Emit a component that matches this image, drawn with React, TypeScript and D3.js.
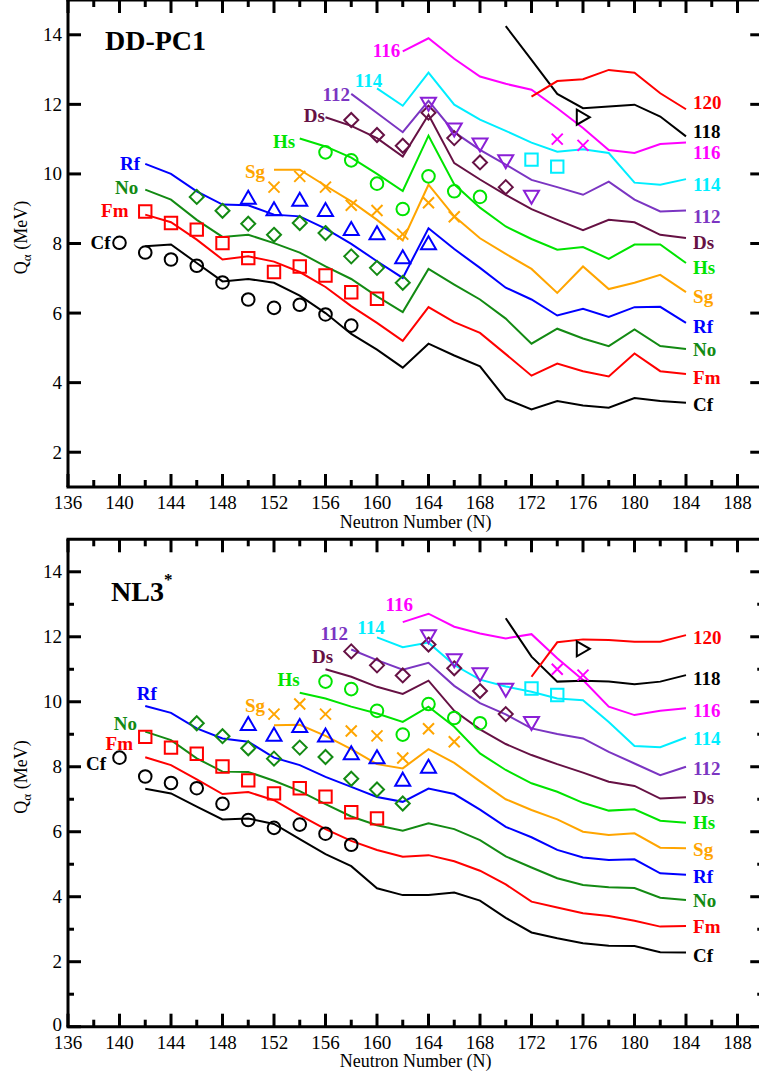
import React from 'react';
import * as d3 from 'd3';

const W = 759;
const H = 1076;

// ---------- Theory (DD-PC1) ----------
const ddCf = [7.92, 7.97, 7.44, 6.91, 6.98, 6.87, 6.5, 6.0, 5.4, 4.95, 4.43, 5.12, 4.78, 4.47, 3.53, 3.23, 3.47, 3.34, 3.28, 3.56, 3.47, 3.42];
const ddFm = [8.83, 8.61, 8.11, 7.54, 7.63, 7.48, 7.18, 6.75, 6.2, 5.72, 5.2, 6.17, 5.74, 5.43, 4.82, 4.2, 4.55, 4.33, 4.18, 4.84, 4.33, 4.25];
const ddNo = [9.55, 9.26, 8.68, 8.19, 8.25, 8.01, 7.74, 7.34, 6.98, 6.48, 6.03, 7.27, 6.82, 6.39, 5.84, 5.12, 5.55, 5.27, 5.05, 5.53, 5.05, 4.97];
const ddRf = [10.29, 10.0, 9.5, 9.12, 9.1, 8.83, 8.78, 8.43, 7.99, 7.49, 7.01, 8.44, 7.84, 7.3, 6.73, 6.39, 5.93, 6.12, 5.89, 6.17, 6.18, 5.72];
const ddSg = [10.12, 10.12, 9.66, 9.21, 8.68, 8.09, 9.69, 8.78, 8.15, 7.7, 7.27, 6.58, 7.34, 6.69, 6.87, 7.1, 6.6];
const ddHs = [11.02, 10.79, 10.47, 10.0, 9.51, 11.1, 9.7, 9.03, 8.49, 8.13, 7.82, 7.9, 7.56, 7.97, 7.97, 7.44];
const ddDs = [11.63, 11.38, 11.03, 10.5, 11.7, 10.31, 9.84, 9.4, 8.99, 8.68, 8.38, 8.68, 8.61, 8.25, 8.16];
const dd112 = [12.3, 11.75, 11.2, 12.1, 11.2, 10.69, 10.27, 9.83, 9.62, 9.4, 9.78, 9.26, 8.92, 8.95];
const dd114 = [12.46, 11.96, 12.91, 11.99, 11.56, 11.24, 10.9, 10.64, 10.71, 10.6, 9.75, 9.69, 9.85];
const dd116 = [13.52, 13.9, 13.31, 12.8, 12.59, 12.42, 11.89, 11.32, 10.69, 10.6, 10.86, 10.9];
const dd118 = [14.25, 13.28, 12.3, 11.89, 11.94, 11.99, 11.65, 11.08];
const dd120 = [12.22, 12.67, 12.72, 12.99, 12.91, 12.32, 11.86];

// ---------- Theory (NL3*) ----------
const nlCf = [7.32, 7.18, 6.77, 6.38, 6.41, 6.24, 5.77, 5.31, 4.94, 4.26, 4.05, 4.05, 4.13, 3.88, 3.35, 2.9, 2.72, 2.57, 2.49, 2.48, 2.29, 2.28];
const nlFm = [8.29, 8.05, 7.61, 7.16, 7.22, 6.97, 6.51, 6.08, 5.72, 5.44, 5.23, 5.28, 5.09, 4.8, 4.38, 3.85, 3.67, 3.49, 3.41, 3.26, 3.08, 3.1];
const nlNo = [9.08, 8.82, 8.26, 7.85, 7.84, 7.57, 7.25, 6.85, 6.47, 6.2, 6.03, 6.26, 6.08, 5.74, 5.24, 4.9, 4.57, 4.36, 4.29, 4.27, 3.97, 3.9];
const nlRf = [9.87, 9.66, 9.18, 8.87, 8.77, 8.28, 8.05, 7.69, 7.38, 7.07, 6.92, 7.33, 7.16, 6.68, 6.15, 5.83, 5.44, 5.21, 5.13, 5.15, 4.72, 4.68];
const nlSg = [9.28, 9.29, 8.95, 8.54, 8.08, 7.95, 8.54, 8.12, 7.55, 7.0, 6.67, 6.38, 6.0, 5.9, 5.95, 5.51, 5.49];
const nlHs = [10.28, 10.1, 9.85, 9.64, 9.38, 9.85, 9.23, 8.41, 7.9, 7.49, 7.23, 6.89, 6.65, 6.69, 6.34, 6.28];
const nlDs = [11.0, 10.77, 10.46, 10.24, 10.65, 9.72, 9.15, 8.7, 8.36, 8.08, 7.82, 7.54, 7.41, 7.02, 7.06];
const nl112 = [11.61, 11.28, 10.99, 11.2, 10.49, 9.96, 9.61, 9.18, 9.01, 8.87, 8.46, 8.1, 7.74, 8.0];
const nl114 = [11.98, 11.68, 11.82, 11.13, 10.68, 10.47, 10.31, 10.1, 10.05, 9.38, 8.64, 8.6, 8.9];
const nl116 = [12.45, 12.71, 12.31, 12.1, 11.95, 12.08, 11.34, 10.67, 9.85, 9.59, 9.72, 9.8];
const nl118 = [12.57, 11.39, 10.62, 10.65, 10.62, 10.54, 10.62, 10.82];
const nl120 = [10.77, 11.83, 11.92, 11.9, 11.85, 11.85, 12.05];

// first neutron number of each theory line
const startN = { Cf: 142, Fm: 142, No: 142, Rf: 142, Sg: 152, Hs: 154, Ds: 156, Z112: 158, Z114: 160, Z116: 162, Z118: 170, Z120: 172 };

// ---------- Experiment ----------
const expCfDD = [8.02, 7.74, 7.54, 7.36, 6.88, 6.39, 6.15, 6.24, 5.96, 5.64];
const expCfNL = [8.28, 7.7, 7.5, 7.34, 6.86, 6.36, 6.12, 6.22, 5.94, 5.6];
const expFm = [8.92, 8.59, 8.4, 8.01, 7.58, 7.18, 7.34, 7.08, 6.6, 6.41];
const expNo = [9.34, 8.94, 8.57, 8.25, 8.59, 8.3, 7.63, 7.3, 6.87];
const expRf = [9.32, 8.99, 9.26, 8.97, 8.42, 8.3, 7.61, 8.01];
const expSg = [9.62, 9.93, 9.62, 9.1, 8.95, 8.27, 9.17, 8.77];
const expHs = [10.62, 10.39, 9.72, 8.99, 9.93, 9.5, 9.34];
const expDs = [11.55, 11.12, 10.81, 11.76, 11.03, 10.33, 9.62];
const exp112 = [12.01, 11.27, 10.84, 10.36, 9.34];
const exp114 = [10.41, 10.21];
const exp116 = [11.0, 10.82];
const exp118 = [11.63];
const expStartN = { Cf: 140, Fm: 142, No: 146, Rf: 150, Sg: 152, Hs: 156, Ds: 158, Z112: 164, Z114: 172, Z116: 174, Z118: 176 };

const xTicksMajor = [136, 140, 144, 148, 152, 156, 160, 164, 168, 172, 176, 180, 184, 188];

// ---------- styles ----------
const C = {
  Cf: '#000000', Fm: '#ff0000', No: '#138a13', Rf: '#0000ff', Sg: '#ffa500', Hs: '#00e400',
  Ds: '#661144', Z112: '#7b35c2', Z114: '#00eeff', Z116: '#ff00ff', Z118: '#000000', Z120: '#ff0000',
};
const FONT = '"Liberation Serif", "Times New Roman", serif';

const names = ['Cf', 'Fm', 'No', 'Rf', 'Sg', 'Hs', 'Ds', 'Z112', 'Z114', 'Z116', 'Z118', 'Z120'];
const ddLines = [ddCf, ddFm, ddNo, ddRf, ddSg, ddHs, ddDs, dd112, dd114, dd116, dd118, dd120];
const nlLines = [nlCf, nlFm, nlNo, nlRf, nlSg, nlHs, nlDs, nl112, nl114, nl116, nl118, nl120];

const expShapes = { Cf: 'circle', Fm: 'square', No: 'diamond', Rf: 'triUp', Sg: 'cross', Hs: 'circle', Ds: 'diamond', Z112: 'triDown', Z114: 'square', Z116: 'cross', Z118: 'triRight' };
const expColors = { ...C, Z112: '#8a1fd6' };

// label annotations (N, Q positions)
const leftLabelsDD = [
  ['Cf', 139.3, 8.04], ['Fm', 140.7, 8.94], ['No', 141.45, 9.6], ['Rf', 141.6, 10.29], ['Sg', 151.3, 10.08],
  ['Hs', 153.65, 10.92], ['Ds', 155.95, 11.67], ['112', 157.9, 12.27], ['114', 160.4, 12.7], ['116', 161.8, 13.56],
];
const rightLabelsDD = [
  ['120', 12.04], ['118', 11.21], ['116', 10.63], ['114', 9.71], ['112', 8.79], ['Ds', 8.02],
  ['Hs', 7.3], ['Sg', 6.49], ['Rf', 5.61], ['No', 4.94], ['Fm', 4.16], ['Cf', 3.36],
];
const leftLabelsNL = [
  ['Cf', 138.95, 8.11], ['Fm', 141.05, 8.73], ['No', 141.36, 9.34], ['Rf', 142.9, 10.26], ['Sg', 151.3, 9.9],
  ['Hs', 154.0, 10.67], ['Ds', 156.6, 11.38], ['112', 157.75, 12.11], ['114', 160.6, 12.3], ['116', 162.8, 12.98],
];
const rightLabelsNL = [
  ['120', 11.98], ['118', 10.72], ['116', 9.74], ['114', 8.88], ['112', 7.96], ['Ds', 7.04],
  ['Hs', 6.27], ['Sg', 5.44], ['Rf', 4.61], ['No', 3.88], ['Fm', 3.07], ['Cf', 2.18],
];
const labelColor = (t) => {
  const key = /^\d/.test(t) ? 'Z' + t : t;
  return C[key];
};

function markerPath(shape) {
  switch (shape) {
    case 'square': return 'M-6.2,-6.2H6.2V6.2H-6.2Z';
    case 'diamond': return 'M0,-7L7,0L0,7L-7,0Z';
    case 'triUp': return 'M0,-6.8L7.5,6.2L-7.5,6.2Z';
    case 'triDown': return 'M-7.5,-6.2L7.5,-6.2L0,6.8Z';
    case 'triRight': return 'M-6.2,-7.5L6.8,0L-6.2,7.5Z';
    case 'cross': return 'M-5.5,-5.5L5.5,5.5M-5.5,5.5L5.5,-5.5';
    default: return '';
  }
}

function Panel({ top, bottom, yMin, yTickLabels, lines, expCf, leftLabels, rightLabels, title, star }) {
  const x = d3.scaleLinear().domain([136, 190]).range([68, 763.25]);
  const y = d3.scaleLinear().domain([yMin, 15]).range([bottom, top]);
  const line = d3.line().x((d) => x(d[0])).y((d) => y(d[1]));
  const expData = [expCf, expFm, expNo, expRf, expSg, expHs, expDs, exp112, exp114, exp116, exp118];
  const expNames = ['Cf', 'Fm', 'No', 'Rf', 'Sg', 'Hs', 'Ds', 'Z112', 'Z114', 'Z116', 'Z118'];
  const left = x(136), right = x(190);
  const xMinor = d3.range(138, 190, 4);
  const yMajor = d3.range(Math.ceil(yMin / 2) * 2, 15, 2).filter((v) => v > yMin || yMin === 0);
  const yMinor = d3.range(Math.floor(yMin) + 1, 15, 2).filter((v) => v % 2 === 1 && v > yMin);
  const ax = { stroke: '#000', strokeWidth: 3 };
  return (
    <g>
      {/* theory lines */}
      {lines.map((vals, i) => {
        const s = startN[names[i]];
        const pts = vals.map((v, j) => [s + 2 * j, v]);
        return <path key={'l' + i} d={line(pts)} fill="none" stroke={C[names[i]]} strokeWidth={2} strokeLinejoin="miter" />;
      })}
      {/* experiment */}
      {expData.map((vals, i) => {
        const nm = expNames[i];
        const s = expStartN[nm];
        const shape = expShapes[nm];
        const col = expColors[nm];
        return vals.map((v, j) => {
          const cx = x(s + 2 * j), cy = y(v);
          if (shape === 'circle') {
            return <circle key={'e' + i + '_' + j} cx={cx} cy={cy} r={6.3} fill="none" stroke={col} strokeWidth={2} />;
          }
          return <path key={'e' + i + '_' + j} transform={`translate(${cx},${cy})`} d={markerPath(shape)} fill="none" stroke={col} strokeWidth={2} strokeLinejoin="miter" />;
        });
      })}
      {/* frame */}
      <line x1={left} x2={left} y1={top} y2={bottom} {...ax} />
      <line x1={right} x2={right} y1={top} y2={bottom} {...ax} />
      <line x1={left - 1.5} x2={right + 1.5} y1={bottom} y2={bottom} {...ax} />
      <line x1={left - 1.5} x2={right + 1.5} y1={top} y2={top} {...ax} />
      {/* x ticks */}
      {xTicksMajor.map((t) => (
        <g key={'xt' + t}>
          <line x1={x(t)} x2={x(t)} y1={bottom} y2={bottom - 13} {...ax} />
          <line x1={x(t)} x2={x(t)} y1={top} y2={top + 13} {...ax} />
          <text x={x(t)} y={bottom + 22} textAnchor="middle" fontSize={19} fontFamily={FONT} fill="#000">{t}</text>
        </g>
      ))}
      {xMinor.map((t) => (
        <g key={'xm' + t}>
          <line x1={x(t)} x2={x(t)} y1={bottom} y2={bottom - 7} {...ax} />
          <line x1={x(t)} x2={x(t)} y1={top} y2={top + 7} {...ax} />
        </g>
      ))}
      {/* y ticks */}
      {yMajor.map((t) => (
        <g key={'yt' + t}>
          <line x1={left} x2={left + 13} y1={y(t)} y2={y(t)} {...ax} />
          <line x1={right} x2={right - 13} y1={y(t)} y2={y(t)} {...ax} />
          {yTickLabels.includes(t) && (
            <text x={62} y={y(t) + (t === 0 ? 4.5 : 6.5)} textAnchor="end" fontSize={19} fontFamily={FONT} fill="#000">{t}</text>
          )}
        </g>
      ))}
      {yMinor.map((t) => (
        <g key={'ym' + t}>
          <line x1={left} x2={left + 6} y1={y(t)} y2={y(t)} {...ax} />
          <line x1={right} x2={right - 6} y1={y(t)} y2={y(t)} {...ax} />
        </g>
      ))}
      {/* axis titles */}
      <text x={x(163)} y={bottom + 40.5} textAnchor="middle" fontSize={18} fontFamily={FONT} fill="#000">Neutron Number (N)</text>
      <text transform={`translate(27,${(top + bottom) / 2 - 6}) rotate(-90)`} textAnchor="middle" fontSize={18} fontFamily={FONT} fill="#000">
        Q<tspan fontSize={13} dy={4}>α</tspan><tspan dy={-4}> (MeV)</tspan>
      </text>
      {/* title */}
      <text x={title.x} y={title.y} fontSize={28} fontWeight="bold" fontFamily={FONT} fill="#000">
        {title.text}
        {star && <tspan fontSize={17} dy={-16}>*</tspan>}
      </text>
      {/* labels */}
      {leftLabels.map(([t, n, q], i) => (
        <text key={'ll' + i} x={x(n)} y={y(q) + 6.5} textAnchor="end" fontSize={19} fontWeight="bold" fontFamily={FONT} fill={labelColor(t)}>{t}</text>
      ))}
      {rightLabels.map(([t, q], i) => (
        <text key={'rl' + i} x={x(184.55)} y={y(q) + 6.5} textAnchor="start" fontSize={19} fontWeight="bold" fontFamily={FONT} fill={labelColor(t)}>{t}</text>
      ))}
    </g>
  );
}

export default function App() {
  return (
    <svg width={W} height={H} viewBox={`0 0 ${W} ${H}`} style={{ position: 'absolute', left: 0, top: 0, background: '#fff' }}>
      <rect x={0} y={0} width={W} height={H} fill="#fff" />
      <Panel
        top={0}
        bottom={487}
        yMin={1}
        yTickLabels={[2, 4, 6, 8, 10, 12, 14]}
        lines={ddLines}
        expCf={expCfDD}
        leftLabels={leftLabelsDD}
        rightLabels={rightLabelsDD}
        title={{ text: 'DD-PC1', x: 105, y: 50 }}
        star={false}
      />
      <Panel
        top={539.3}
        bottom={1026.7}
        yMin={0}
        yTickLabels={[0, 2, 4, 6, 8, 10, 12, 14]}
        lines={nlLines}
        expCf={expCfNL}
        leftLabels={leftLabelsNL}
        rightLabels={rightLabelsNL}
        title={{ text: 'NL3', x: 111, y: 601 }}
        star={true}
      />
    </svg>
  );
}
